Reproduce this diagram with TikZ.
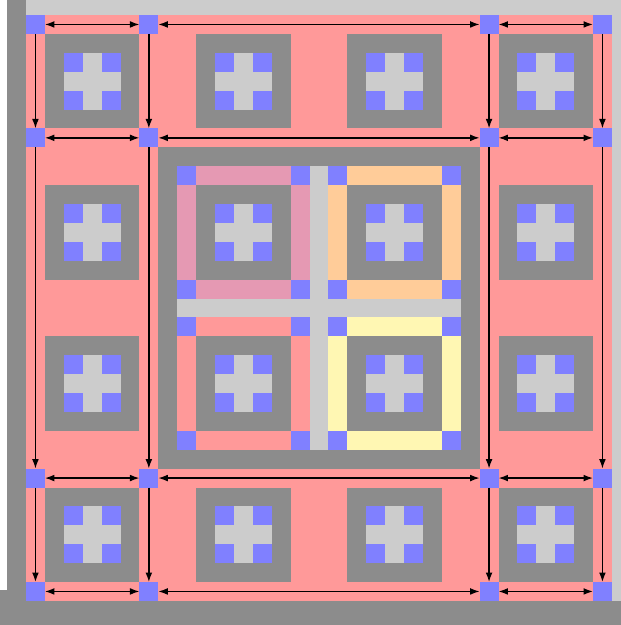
\documentclass[tikz,border=0pt]{standalone}
\usetikzlibrary{arrows.meta}

\definecolor{quiltpink}{HTML}{FF9999}
\definecolor{tilegray}{HTML}{8C8C8C}
\definecolor{crossgray}{HTML}{CCCCCC}
\definecolor{jointblue}{HTML}{8080FF}
\definecolor{mauve}{HTML}{E599B3}
\definecolor{apricot}{HTML}{FFCC99}
\definecolor{butter}{HTML}{FFF7B3}

% one 5x5 tile with a cross and four blue corners
\newcommand{\crosstile}[2]{%
    \fill[tilegray] (#1,#2) rectangle ++(5,5);
    \fill[crossgray] (#1+1,#2+1) rectangle ++(3,3);
    \foreach \dx/\dy in {1/1,3/1,1/3,3/3}
        \fill[jointblue] (#1+\dx,#2+\dy) rectangle ++(1,1);
}

\begin{document}
\begin{tikzpicture}[
    x=1cm, y=-1cm,
    >={Latex[length=0.5cm,width=0.36cm]},
    joint/.style={fill=jointblue, minimum size=1cm, inner sep=0pt, outer sep=0pt},
    link/.style={line width=2pt}
]

\useasboundingbox (-1.376,-0.794) rectangle (31.481,32.275);
\fill[white] (-1.376,-0.794) rectangle (31.481,32.275);

% frame
\fill[tilegray] (-1.005,-0.794) rectangle (0,31);
\fill[tilegray] (-1.376,30.4) rectangle (31.481,32.275);
\fill[crossgray] (0,-0.794) rectangle (31.481,0);
\fill[crossgray] (31,0) rectangle (31.481,31);

\fill[quiltpink] (0,0) rectangle (31,31);

% outer ring of tiles
\foreach \x/\y in {1/1,9/1,17/1,25/1,1/9,25/9,1/17,25/17,1/25,9/25,17/25,25/25}
    \crosstile{\x}{\y};

% centre panel
\fill[tilegray] (7,7) rectangle (24,24);
\foreach \x/\y/\col in {8/8/mauve,16/8/apricot,8/16/quiltpink,16/16/butter} {
    \fill[\col] (\x,\y) rectangle ++(7,7);
    \crosstile{\x+1}{\y+1};
    \foreach \dx/\dy in {0/0,6/0,0/6,6/6}
        \fill[jointblue] (\x+\dx,\y+\dy) rectangle ++(1,1);
}
\fill[crossgray] (15,8) rectangle (16,23);
\fill[crossgray] (8,15) rectangle (23,16);

% joints
\foreach \c in {0,6,24,30}
    \foreach \r in {0,6,24,30}
        \node[joint] (j\c-\r) at (\c+0.5,\r+0.5) {};

% links
\foreach \a/\b in {0/6,6/24,24/30} {
    \foreach \r in {0,6,24,30}
        \draw[link,<->] (j\a-\r) -- (j\b-\r);
    \foreach \c in {0,6,24,30}
        \draw[link,->] (j\c-\a) -- (j\c-\b);
}

\end{tikzpicture}
\end{document}
